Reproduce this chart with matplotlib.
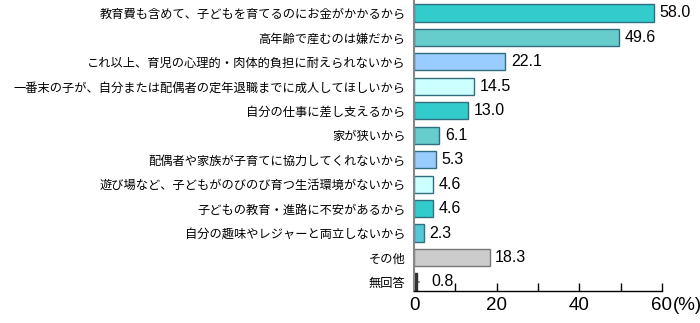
import matplotlib.pyplot as plt

plt.rcParams['font.family'] = ['Noto Sans CJK JP', 'DejaVu Sans']

labels = ['教育費も含めて、子どもを育てるのにお金がかかるから',
          '高年齢で産むのは嫌だから',
          'これ以上、育児の心理的・肉体的負担に耐えられないから',
          '一番末の子が、自分または配偶者の定年退職までに成人してほしいから',
          '自分の仕事に差し支えるから',
          '家が狭いから',
          '配偶者や家族が子育てに協力してくれないから',
          '遊び場など、子どもがのびのび育つ生活環境がないから',
          '子どもの教育・進路に不安があるから',
          '自分の趣味やレジャーと両立しないから',
          'その他',
          '無回答']
values = [58.0, 49.6, 22.1, 14.5, 13.0, 6.1, 5.3, 4.6, 4.6, 2.3, 18.3, 0.8]
colors = ['#33CCCC', '#66CCCC', '#99CCFF', '#CCFFFF',
          '#33CCCC', '#66CCCC', '#99CCFF', '#CCFFFF',
          '#33CCCC', '#55C8D8', '#CCCCCC', '#333333']
edges = ['#2F6F7F'] * 10 + ['#777777', '#333333']

fig = plt.figure(figsize=(7, 3.23), dpi=100)
ax = fig.add_axes([414 / 700, 32 / 323, 248 / 700, 291 / 323])

y = list(range(len(labels)))
ax.barh(y, values, height=0.7, color=colors, edgecolor=edges, linewidth=1)

num_font = ['Liberation Sans', 'DejaVu Sans']
for i, v in enumerate(values):
    off = 4 if v > 1 else 10
    ax.annotate(f'{v:.1f}', (v, i), xytext=(off, 0), textcoords='offset points',
                va='center', ha='left', fontsize=11.5, family=num_font)
# small leader for 無回答
ax.annotate('', (values[-1], y[-1]), xytext=(values[-1] + 1.2, y[-1]),
            arrowprops=dict(arrowstyle='-', color='#333333', lw=0.8))

ax.set_xlim(0, 60)
ax.set_ylim(11.37, -0.53)
ax.set_yticks(y)
ax.set_yticklabels(labels, fontsize=8.8)
ax.tick_params(axis='y', length=0, pad=6)

ax.set_xticks([0, 20, 40, 60])
ax.set_xticks([10, 30, 50], minor=True)
ax.set_xticklabels(['0', '20', '40', '60'], fontsize=13.5, family=num_font)
ax.tick_params(axis='x', which='both', direction='in', length=6, width=1, pad=4)
ax.annotate('(%)', (60, 0), xycoords=('data', 'axes fraction'), xytext=(7.5, -4),
            textcoords='offset points', fontsize=13.5, family=num_font,
            va='top', ha='left')

for s in ['top', 'right']:
    ax.spines[s].set_visible(False)
ax.spines['left'].set_color('#888888')
ax.spines['left'].set_linewidth(1.5)
ax.spines['bottom'].set_linewidth(1)

fig.savefig('out.png', dpi=100)
